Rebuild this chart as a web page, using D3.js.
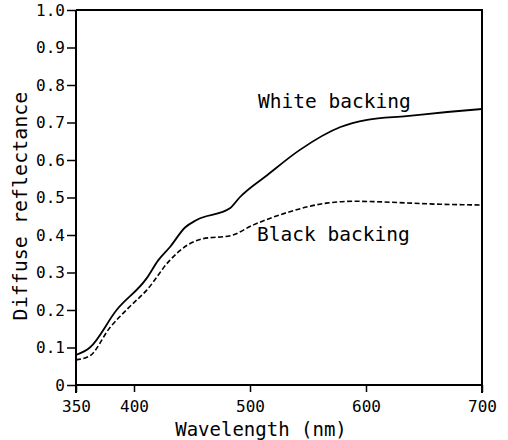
<!DOCTYPE html>
<html>
<head>
<meta charset="utf-8">
<script src="https://cdn.jsdelivr.net/npm/d3@7"></script>
<style>
  body { margin: 0; background: #fff; }
  text { font-family: "DejaVu Sans Mono", monospace; fill: #000; }
</style>
</head>
<body>
<script>
// wavelength (nm) and reflectance
var whiteWave = [350, 362, 385, 411, 421, 431, 444, 454, 483, 491, 515, 543, 578, 601, 635, 670, 700];
var whiteVal  = [0.08, 0.10, 0.20, 0.285, 0.333, 0.368, 0.42, 0.44, 0.472, 0.50, 0.56, 0.627, 0.688, 0.707, 0.717, 0.728, 0.736];

var blackWave = [350, 362, 379, 395, 411, 431, 446, 459, 483, 503, 532, 566, 590, 606, 664, 700];
var blackVal  = [0.067, 0.078, 0.152, 0.205, 0.253, 0.333, 0.373, 0.39, 0.398, 0.427, 0.46, 0.485, 0.49, 0.489, 0.482, 0.48];

var xTicks = [350, 400, 500, 600, 700];
var yTicks = [0, 0.1, 0.2, 0.3, 0.4, 0.5, 0.6, 0.7, 0.8, 0.9, 1.0];

const margins = { left: 76, right: 26, top: 10, bottom: 55 };
const width = 508;
const height = 440;

var xScale = d3.scaleLinear().domain([350, 700]).range([margins.left, width - margins.right]);
var yScale = d3.scaleLinear().domain([0, 1]).range([height - margins.bottom, margins.top]);

var svg = d3.select("body").append("svg")
    .attr("width", width)
    .attr("height", height);

// frame: top and right
svg.append("path")
    .attr("d", "M" + xScale(350) + "," + yScale(1) + "H" + xScale(700) + "V" + (yScale(0) + 8))
    .attr("fill", "none")
    .attr("stroke", "#000")
    .attr("stroke-width", 2);

// y axis
var yAxis = d3.axisLeft(yScale)
    .tickValues(yTicks)
    .tickSize(9)
    .tickPadding(2)
    .tickFormat(d => d === 0 ? "0" : d3.format(".1f")(d));
var gy = svg.append("g")
    .attr("transform", "translate(" + xScale(350) + ",0)")
    .call(yAxis);
gy.select(".domain").remove();
gy.selectAll(".tick line").attr("stroke-width", 1.5);
gy.selectAll("text").style("font-size", "16px");
gy.append("line")
    .attr("y1", yScale(1)).attr("y2", yScale(0) + 8)
    .attr("stroke", "#000").attr("stroke-width", 2);

// x axis
var xAxis = d3.axisBottom(xScale)
    .tickValues(xTicks)
    .tickSize(7)
    .tickPadding(9);
var gx = svg.append("g")
    .attr("transform", "translate(0," + yScale(0) + ")")
    .call(xAxis);
gx.select(".domain").remove();
gx.selectAll(".tick line").attr("stroke-width", 1.5);
gx.selectAll("text").style("font-size", "16px");
gx.append("line")
    .attr("x1", xScale(350)).attr("x2", xScale(700))
    .attr("stroke", "#000").attr("stroke-width", 2);

// curves
var line = d3.line()
    .x(d => xScale(d[0]))
    .y(d => yScale(d[1]))
    .curve(d3.curveMonotoneX);

svg.append("path")
    .datum(whiteWave.map((w, i) => [w, whiteVal[i]]))
    .attr("d", line)
    .attr("fill", "none")
    .attr("stroke", "#000")
    .attr("stroke-width", 1.8);

svg.append("path")
    .datum(blackWave.map((w, i) => [w, blackVal[i]]))
    .attr("d", line)
    .attr("fill", "none")
    .attr("stroke", "#000")
    .attr("stroke-width", 1.6)
    .attr("stroke-dasharray", "5,2.5");

// curve labels
svg.append("text")
    .text("White backing")
    .attr("x", 258).attr("y", 108)
    .style("font-size", "19.5px");
svg.append("text")
    .text("Black backing")
    .attr("x", 257).attr("y", 241)
    .style("font-size", "19.5px");

// axis titles
svg.append("text")
    .text("Wavelength (nm)")
    .attr("x", 261)
    .attr("y", 436)
    .attr("text-anchor", "middle")
    .style("font-size", "19px");

svg.append("text")
    .text("Diffuse reflectance")
    .attr("transform", "translate(27," + 206 + ") rotate(-90)")
    .attr("text-anchor", "middle")
    .style("font-size", "20px");
</script>
</body>
</html>
